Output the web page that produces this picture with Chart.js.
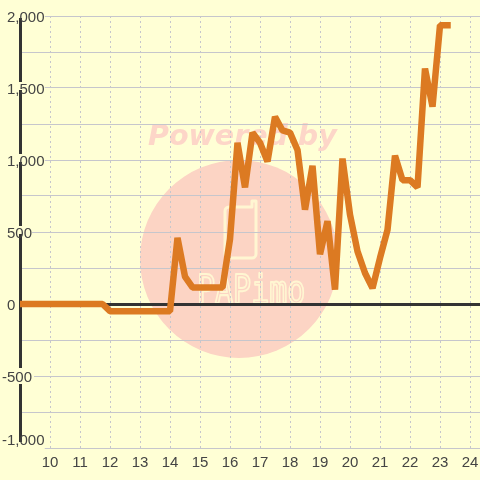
<!DOCTYPE html>
<html>
<head>
<meta charset="utf-8">
<style>
  html, body { margin: 0; padding: 0; background: #ffffd5; }
  #wrap { position: relative; width: 480px; height: 480px; }
</style>
<script src="https://cdn.jsdelivr.net/npm/chart.js@4"></script>
</head>
<body>
<div id="wrap"><canvas id="graph" width="480" height="480"></canvas></div>
<script>
const hours = [
  9, 9.25, 9.5, 9.75, 10, 10.25, 10.5, 10.75, 11, 11.25, 11.5, 11.75,
  12, 12.25, 12.5, 12.75, 13, 13.25, 13.5, 13.75, 14, 14.25, 14.5, 14.75,
  15, 15.25, 15.5, 15.75, 16, 16.25, 16.5, 16.75, 17, 17.25, 17.5, 17.75,
  18, 18.25, 18.5, 18.75, 19, 19.25, 19.5, 19.75, 20, 20.25, 20.5, 20.75,
  21, 21.25, 21.5, 21.75, 22, 22.25, 22.5, 22.75, 23, 23.25
];
const balance = [
  0, 0, 0, 0, 0, 0, 0, 0, 0, 0, 0, 0,
  -50, -50, -50, -50, -50, -50, -50, -50, -50, 460, 190, 115,
  115, 115, 115, 115, 450, 1120, 810, 1190, 1120, 990, 1300, 1205,
  1190, 1070, 655, 960, 345, 575, 100, 1010, 620, 365, 215, 110,
  320, 515, 1030, 860, 860, 810, 1635, 1370, 1935, 1935
];

const BG = '#ffffd5';
const GRID = '#c6c6cc';
const TEXT = '#444444';

const fmt = v => v.toLocaleString('en-US');

// watermark sits under the grid
const watermark = {
  id: 'watermark',
  beforeDraw(chart) {
    const c = chart.ctx;
    c.save();
    c.fillStyle = '#fcd4c4';
    c.beginPath();
    c.arc(239, 259, 99, 0, Math.PI * 2);
    c.fill();

    c.fillStyle = '#fdd6c8';
    c.font = 'italic bold 28.5px "DejaVu Sans"';
    c.textAlign = 'left';
    c.textBaseline = 'alphabetic';
    c.fillText('Powered by', 148, 145);

    c.strokeStyle = '#fff6d2';
    c.lineWidth = 3;
    c.lineJoin = 'round';
    c.beginPath();
    c.moveTo(252, 207);
    c.lineTo(252, 201);
    c.lineTo(256, 201);
    c.lineTo(256, 254);
    c.arcTo(256, 258, 252, 258, 4);
    c.lineTo(229, 258);
    c.arcTo(225, 258, 225, 254, 4);
    c.lineTo(225, 211);
    c.arcTo(225, 207, 229, 207, 4);
    c.closePath();
    c.stroke();

    c.translate(197, 303);
    c.scale(1, 1.3);
    c.font = '30px "DejaVu Sans Mono"';
    c.lineWidth = 1.6;
    c.strokeText('PAPimo', 0, 0);
    c.restore();
  }
};

// mirrored ticks with negative padding give a negative width, pin it
const noWidth = scale => { scale.width = 0; };
// an empty first line pushes the text 2px down from the tick (half the 4px line height)
const nudged = text => ['', text];

new Chart(document.getElementById('graph'), {
  type: 'line',
  data: {
    datasets: [{
      data: hours.map((h, i) => ({ x: h, y: balance[i] })),
      borderColor: '#dc7a22',
      borderWidth: 6.5,
      borderCapStyle: 'square',
      borderJoinStyle: 'bevel',
      pointRadius: 0,
      tension: 0,
      yAxisID: 'y'
    }]
  },
  options: {
    responsive: false,
    animation: false,
    layout: { padding: { left: 20, right: 0, top: 16, bottom: 0 } },
    plugins: { legend: { display: false }, tooltip: { enabled: false } },
    scales: {
      x: {
        type: 'linear',
        min: 9,
        max: 24.3333,
        afterFit: scale => { scale.height = 32; },
        grid: { color: GRID, lineWidth: 1, drawTicks: false, z: -2 },
        border: { display: false, dash: [2, 3] },
        ticks: {
          stepSize: 1,
          includeBounds: false,
          autoSkip: false,
          maxRotation: 0,
          padding: 0,
          color: TEXT,
          font: { family: '"Liberation Sans"', size: 15, lineHeight: '29px' },
          callback: v => (v === 9 ? '' : String(v))
        }
      },
      y: {
        position: 'left',
        min: -1000,
        max: 2000,
        afterFit: noWidth,
        grid: {
          z: -1,
          drawTicks: false,
          color: c => (c.tick.value === 0 ? '#333333' : GRID),
          lineWidth: c => (c.tick.value === 0 ? 3 : 1)
        },
        border: { display: true, color: '#333333', width: 3, z: -1 },
        ticks: {
          z: -0.5,
          stepSize: 250,
          mirror: true,
          padding: -13,
          color: TEXT,
          font: { family: '"Liberation Sans"', size: 15, lineHeight: '4px' },
          showLabelBackdrop: true,
          backdropColor: BG,
          backdropPadding: c => (c.tick && c.tick.value === -1000
            ? { left: 0, right: 2, top: 6, bottom: 8 }
            : { left: 0, right: 2, top: 2, bottom: 6 }),
          callback: v => {
            // blank spaces at -1,000 only mask the axis and grid behind the yNeg label
            if (v === -1000) return nudged('\u00a0'.repeat(9));
            return v >= 0 && v % 500 === 0 ? nudged(fmt(v)) : '';
          }
        }
      },
      // negative labels hang further left so their digits line up with the rest
      yNeg: {
        position: 'left',
        min: -1000,
        max: 2000,
        afterFit: noWidth,
        grid: { display: false, drawTicks: false },
        border: { display: false },
        ticks: {
          stepSize: 250,
          mirror: true,
          padding: -18,
          color: TEXT,
          font: c => ({
            family: '"Liberation Sans"',
            size: 15,
            lineHeight: c.tick && c.tick.value === -1000 ? '14px' : '4px'
          }),
          showLabelBackdrop: c => !!c.tick && c.tick.value === -500,
          backdropColor: BG,
          backdropPadding: { left: 0, right: 2, top: 2, bottom: 6 },
          callback: v => {
            if (v === -500) return nudged(fmt(v));
            if (v === -1000) return [fmt(v), ''];
            return '';
          }
        }
      }
    }
  },
  plugins: [watermark]
});
</script>
</body>
</html>
